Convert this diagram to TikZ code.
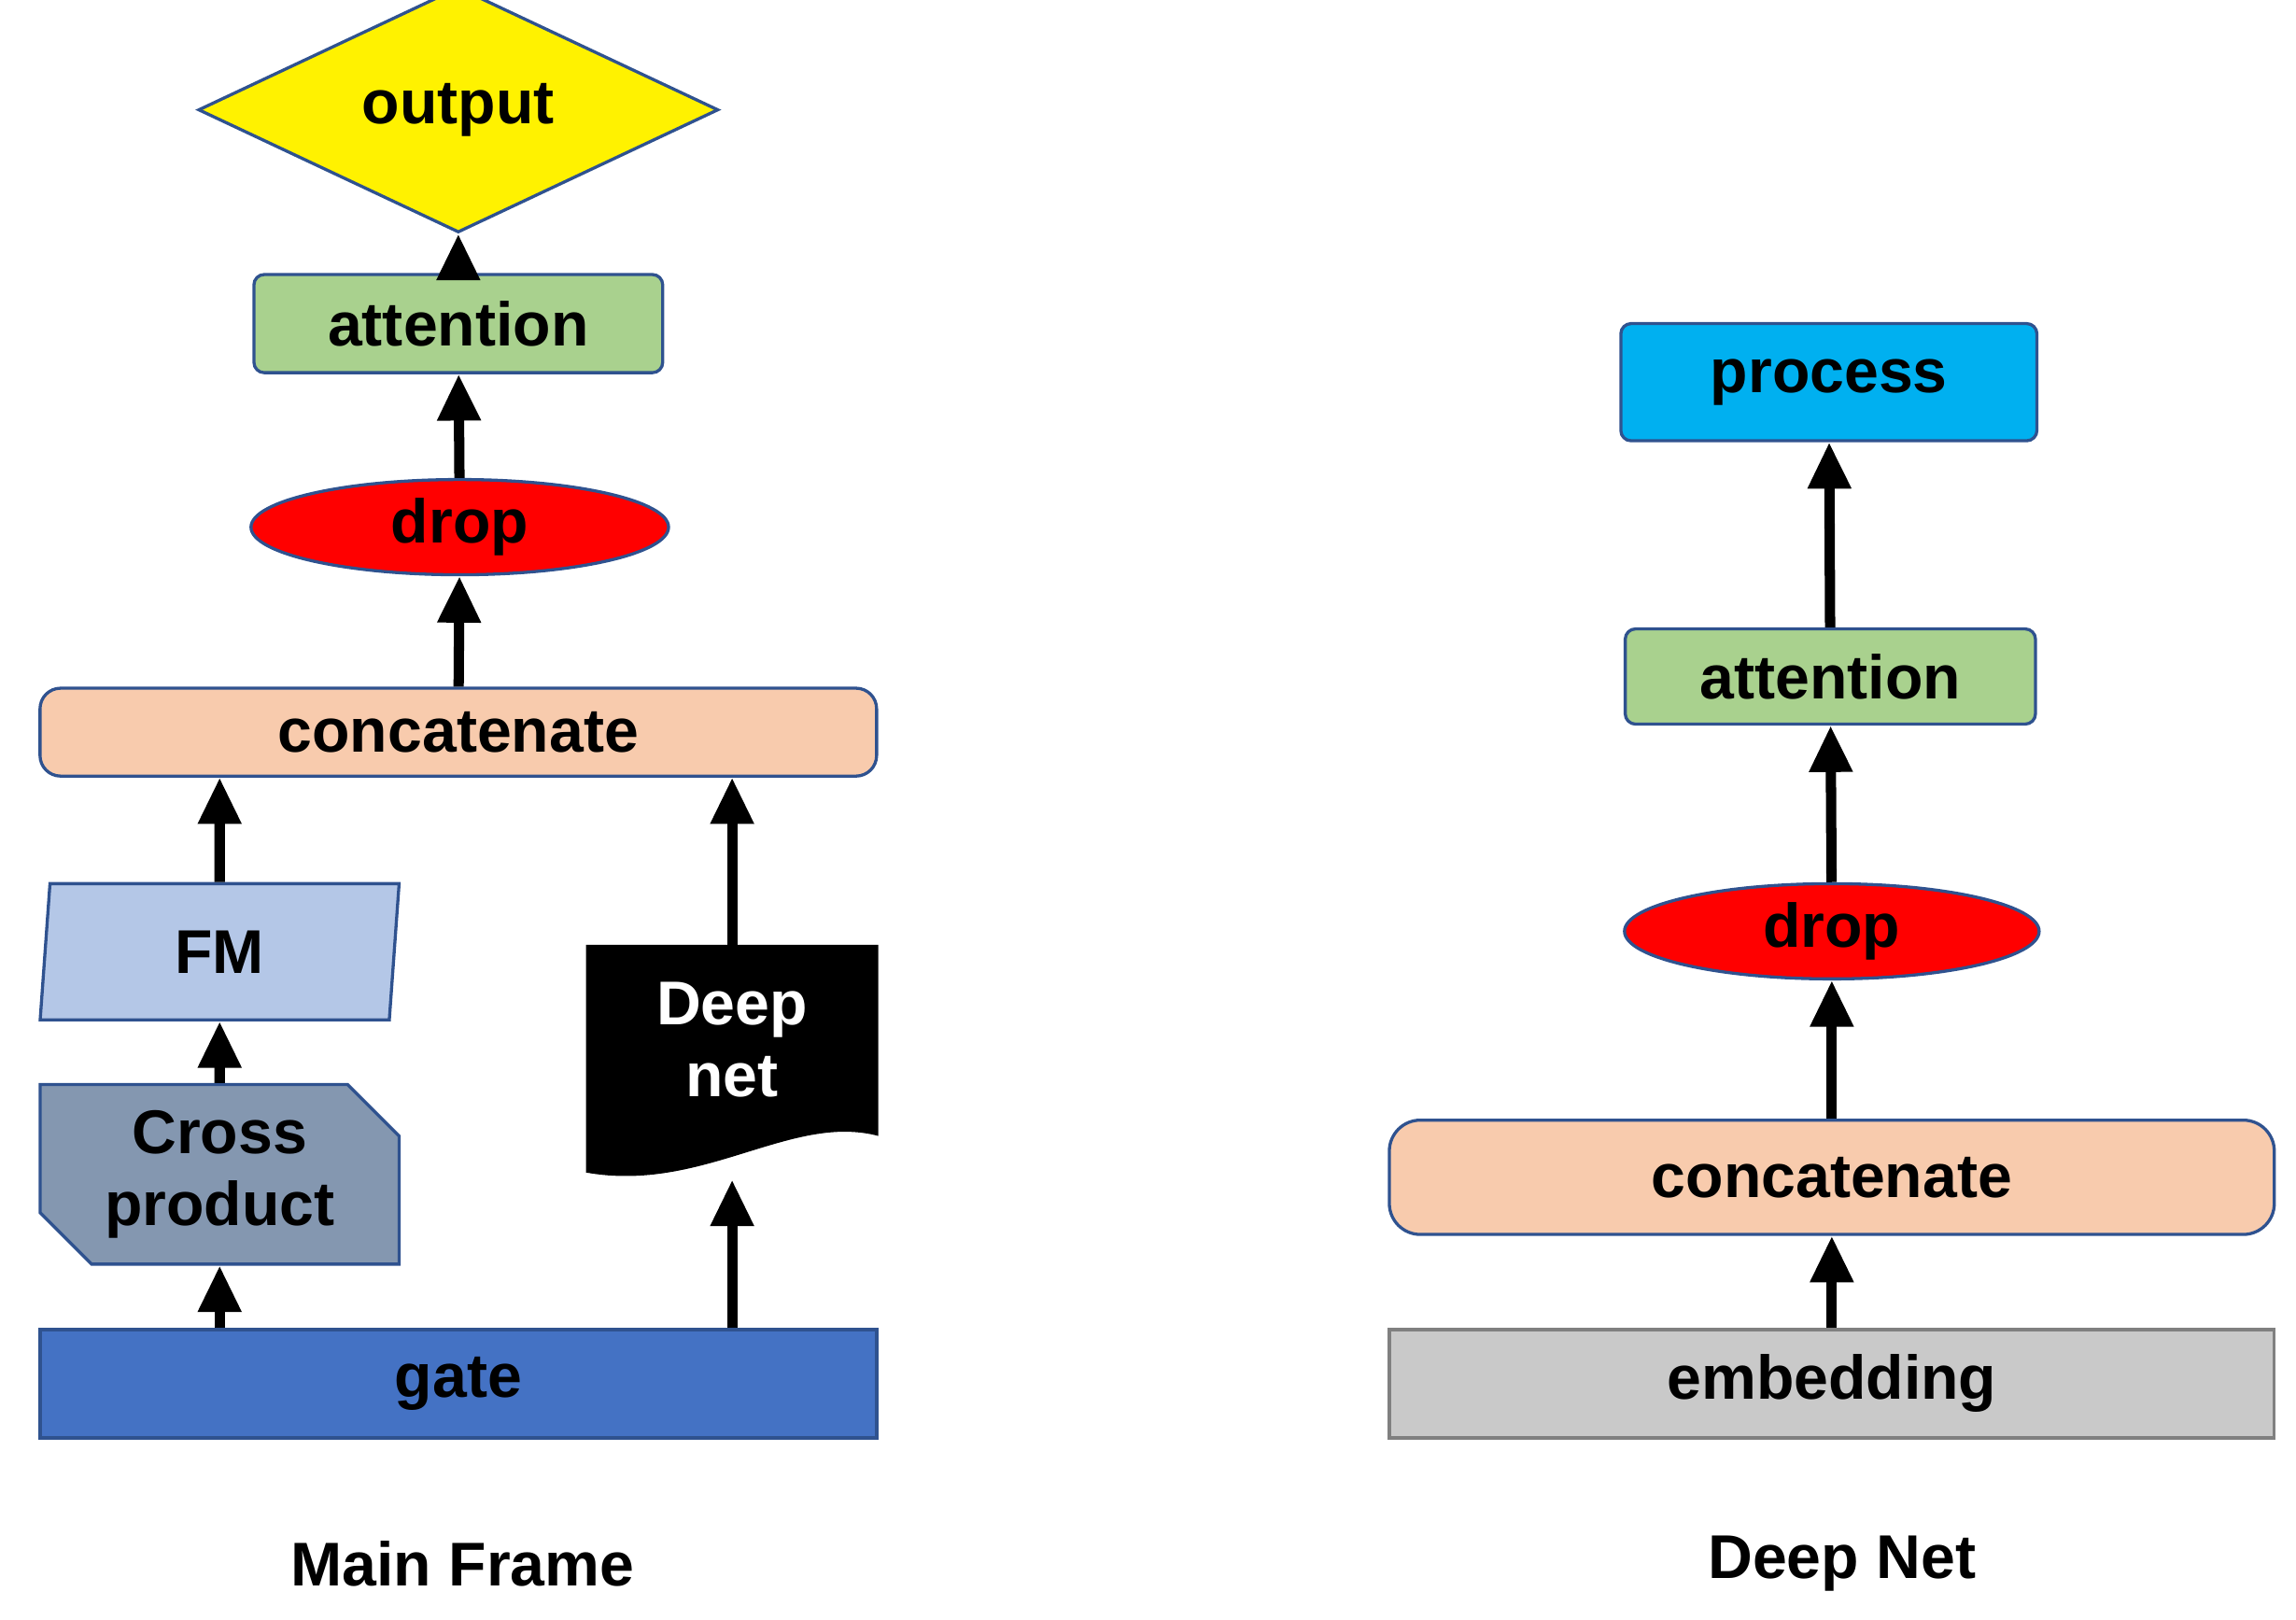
\documentclass[tikz,border=0pt]{standalone}
\usepackage{fontspec}
\setmainfont{Liberation Sans}
\usetikzlibrary{arrows.meta, shapes.geometric, shapes.misc}
\definecolor{edgeblue}{HTML}{2F528F}
\definecolor{attgreen}{HTML}{A9D18E}
\definecolor{catpeach}{HTML}{F8CBAD}
\definecolor{fmblue}{HTML}{B4C7E7}
\definecolor{crossgrey}{HTML}{8497B0}
\definecolor{gateblue}{HTML}{4472C4}
\definecolor{procblue}{HTML}{00B0F0}
\definecolor{embgrey}{HTML}{C9C9C9}
\tikzset{
	box/.style = {rectangle, draw = edgeblue, line width = 0.6pt, inner sep = 0pt, font = \fontsize{12}{14}\selectfont\bfseries, align = center},
	rbox/.style = {box, rounded corners = 4pt},
	oval/.style = {ellipse, draw = edgeblue, line width = 0.6pt, fill = red, inner sep = 0pt, font = \fontsize{12}{14}\selectfont\bfseries},
	arrow/.style = {-{Triangle[length = 9pt, width = 8pt]}, line width = 2pt, draw = black},
	caption/.style = {font = \fontsize{12}{14}\selectfont\bfseries}
}
\begin{document}
\begin{tikzpicture}[x = 0.01cm, y = -0.01cm]
	\useasboundingbox (0,0) rectangle (1568,1106);
	
	%% main frame
	\node (out) [diamond, draw = edgeblue, line width = 0.6pt, fill = yellow, inner sep = 0pt, minimum width = 3.55cm, minimum height = 1.08cm, font = \fontsize{12}{14}\selectfont\bfseries] at (313,75) {output};
	\node (att) [rbox, rounded corners = 2pt, fill = attgreen, minimum width = 2.79cm, minimum height = 0.67cm] at (313,221) {attention};
	\node (drop) [oval, minimum width = 2.85cm, minimum height = 0.65cm] at (314,360) {drop};
	\node (cat) [rbox, fill = catpeach, minimum width = 5.71cm, minimum height = 0.6cm] at (313,500) {concatenate};
	\node (fm) [trapezium, trapezium left angle = 77, trapezium right angle = 103, trapezium stretches body, draw = edgeblue, line width = 0.6pt, fill = fmblue, inner sep = 0pt, minimum width = 2.45cm, minimum height = 0.93cm, font = \fontsize{12}{14}\selectfont\bfseries] at (150,650) {FM};
	\node (cross) [chamfered rectangle, chamfered rectangle corners = {north east, south west}, chamfered rectangle xsep = 5pt, chamfered rectangle ysep = 5pt, draw = edgeblue, line width = 0.6pt, fill = crossgrey, inner sep = 0pt, minimum width = 2.45cm, minimum height = 1.0cm, font = \fontsize{12}{14}\selectfont\bfseries, align = center] at (150,802) {Cross\\product};
	\node (deep) [rectangle, inner sep = 0pt, minimum width = 1.98cm, minimum height = 1.54cm] at (500,723) {};
	\fill [black] (deep.north west) -- (deep.north east) -- ([yshift = 0.25cm] deep.south east)
		.. controls (540,760) and (480,815) .. (deep.south west) -- cycle;
	\node (deeptxt) [font = \fontsize{12}{14}\selectfont\bfseries, text = white, align = center] at (500,710) {Deep\\net};
	\node (gate) [box, fill = gateblue, minimum width = 5.71cm, minimum height = 0.74cm] at (313,945) {gate};
	\node (mainlbl) [caption] at (316,1068) {Main Frame};
	
	%% deep net
	\node (proc) [rbox, rounded corners = 2pt, fill = procblue, minimum width = 2.84cm, minimum height = 0.8cm] at (1249,261) {process};
	\node (att2) [rbox, rounded corners = 2pt, fill = attgreen, minimum width = 2.8cm, minimum height = 0.65cm] at (1250,462) {attention};
	\node (drop2) [oval, minimum width = 2.83cm, minimum height = 0.65cm] at (1251,636) {drop};
	\node (cat2) [rbox, rounded corners = 6pt, fill = catpeach, minimum width = 6.04cm, minimum height = 0.78cm] at (1251,804) {concatenate};
	\node (emb) [box, draw = gray, fill = embgrey, minimum width = 6.04cm, minimum height = 0.74cm] at (1251,945) {embedding};
	\node (deeplbl) [caption] at (1258,1068) {Deep Net};
	
	%% arrows
	\draw [arrow] (att) -- (out);
	\draw [arrow] (drop) -- (att);
	\draw [arrow] (cat) -- (drop);
	\draw [arrow] (fm.north -| cross) -- (fm.north |- cat.south) ;
	\draw [arrow] (cross) -- (fm);
	\draw [arrow] (gate.north -| cross) -- (cross.south);
	\draw [arrow] (deep.north) -- (deep.north |- cat.south);
	\draw [arrow] (gate.north -| deep) -- ([yshift = -0.05cm] deep.south);
	\draw [arrow] (emb) -- (cat2);
	\draw [arrow] (cat2) -- (drop2);
	\draw [arrow] (drop2) -- (att2);
	\draw [arrow] (att2) -- (proc);
\end{tikzpicture}
\end{document}
